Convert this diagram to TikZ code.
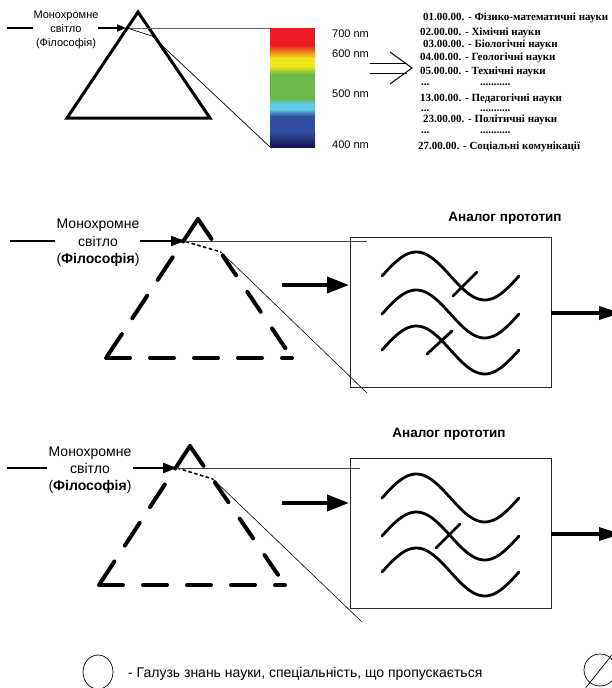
\documentclass[tikz,border=0pt]{standalone}
\usepackage{fontspec}
\setmainfont{Liberation Sans}
\newfontfamily\tnr{Liberation Serif}
\usetikzlibrary{arrows.meta}
\definecolor{spred}{RGB}{237,28,36}
\definecolor{sporange}{RGB}{247,148,29}
\definecolor{spyellow}{RGB}{240,232,24}
\definecolor{spgreen}{RGB}{108,184,72}
\definecolor{spcyan}{RGB}{96,204,232}
\definecolor{spblue}{RGB}{48,78,160}
\definecolor{spnavy}{RGB}{18,18,80}
\begin{document}
\begin{tikzpicture}[x=1pt,y=-1pt,
  lbl/.style={inner sep=0pt, anchor=base},
  lblw/.style={inner sep=0pt, anchor=base west},
  lst/.style={inner sep=0pt, anchor=base west, font=\tnr\bfseries\fontsize{11}{13}\selectfont},
  smallsans/.style={font=\fontsize{11}{13}\selectfont},
  bigsans/.style={font=\fontsize{14}{16}\selectfont},
  thinln/.style={draw=black!75, line width=0.7pt},
  prismline/.style={line width=3pt, line join=miter},
  dprism/.style={line width=4pt, line cap=round, dash pattern=on 25pt off 19pt},
  wave/.style={line width=2.8pt, line cap=round},
  inarrow/.style={line width=2pt, -{Triangle[length=14pt,width=10pt]}},
  smallarrow/.style={line width=2pt, -{Triangle[length=9pt,width=7pt]}},
  bigarrow/.style={line width=4pt, -{Triangle[length=22pt,width=16pt]}},
  outarrow/.style={line width=3.5pt, -{Triangle[length=22pt,width=13pt]}},
  boxln/.style={draw=black!85, line width=0.8pt}
]
\clip (0,0) rectangle (612,688);
\fill[white] (0,0) rectangle (612,688);

% ================= TOP SECTION =================
\coordinate (t0) at (7,28);
\coordinate (t1) at (33,28);
\coordinate (t2) at (98,28);
\coordinate (t3) at (126,28);
\draw[line width=2pt] (t0) -- (t1);
\draw[smallarrow] (t2) -- (t3);
\node[lbl, smallsans] (tl1) at (66,19) {Монохромне};
\node[lbl, smallsans] (tl2) at (66,32) {світло};
\node[lbl, smallsans] (tl3) at (66,46) {(Філософія)};

\coordinate (tA) at (138,12);
\coordinate (tBL) at (67,118);
\coordinate (tBR) at (210,118);
\draw[prismline] (tA) -- (tBR) -- (tBL) -- cycle;

% spectrum
\fill[spred] (270,28) rectangle (315,45.3);
\shade[top color=spred, middle color=sporange, bottom color=spyellow] (270,45) rectangle (315,58.3);
\fill[spyellow] (270,58) rectangle (315,66.3);
\shade[top color=spyellow, bottom color=spgreen] (270,66) rectangle (315,74.3);
\fill[spgreen] (270,74) rectangle (315,98.3);
\shade[top color=spgreen, bottom color=spcyan] (270,98) rectangle (315,104.3);
\fill[spcyan] (270,104) rectangle (315,109.3);
\shade[top color=spcyan, bottom color=spblue] (270,109) rectangle (315,116.3);
\fill[spblue] (270,116) rectangle (315,132.3);
\shade[top color=spblue, bottom color=spnavy] (270,132) rectangle (315,147);
\coordinate (sTL) at (270,28);
\coordinate (sBL) at (270,147);
\coordinate (tr0) at (127,28);
\coordinate (tr1) at (152,36);
\draw[thinln, draw=black!60] (tr0) -- (sTL);
\draw[line width=0.7pt] (tr0) -- (tr1) -- (sBL);

\node[lblw, smallsans] (n700) at (332,37) {700 nm};
\node[lblw, smallsans] (n600) at (332,57) {600 nm};
\node[lblw, smallsans] (n500) at (332,97) {500 nm};
\node[lblw, smallsans] (n400) at (332,148) {400 nm};

% implies arrow
\coordinate (d1a) at (370,63); \coordinate (d1b) at (407,63);
\coordinate (d2a) at (370,73); \coordinate (d2b) at (407,73);
\coordinate (dh1) at (390,52); \coordinate (dh2) at (412,68); \coordinate (dh3) at (390,84);
\draw[line width=1pt] (d1a) -- (d1b);
\draw[line width=1pt] (d2a) -- (d2b);
\draw[line width=1pt] (dh1) -- (dh2) -- (dh3);

% list
\node[lst] (L01) at (423,20.7) {01.00.00. - Фізико-математичні науки};
\node[lst] (L02) at (420,35.7) {02.00.00. - Хімічні науки};
\node[lst] (L03) at (423,47.3) {03.00.00. - Біологічні науки};
\node[lst] (L04) at (420,60.7) {04.00.00. - Геологічні науки};
\node[lst] (L05) at (420,74) {05.00.00. - Технічні науки};
\node[lst] (D1a) at (421,85) {...};
\node[lst] (D1b) at (480,85) {...........};
\node[lst] (L13) at (420,101.3) {13.00.00. - Педагогічні науки};
\node[lst] (D2a) at (421,111) {...};
\node[lst] (D2b) at (480,111) {...........};
\node[lst] (L23) at (423,122) {23.00.00. - Політичні науки};
\node[lst] (D3a) at (421,133) {...};
\node[lst] (D3b) at (480,133) {...........};
\node[lst] (L27) at (418,149) {27.00.00. - Соціальні комунікації};

% ================= MIDDLE SECTION =================
\coordinate (m0) at (10,241);
\coordinate (m1) at (55,241);
\coordinate (m2) at (140,241);
\coordinate (m3) at (185,241);
\draw[line width=2pt] (m0) -- (m1);
\draw[inarrow] (m2) -- (m3);
\node[lbl, bigsans] (ml1) at (98,228) {Монохромне};
\node[lbl, bigsans] (ml2) at (98,246) {світло};
\node[lbl, bigsans] (ml3) at (98,263) {(\textbf{Філософія})};

\coordinate (mA) at (198,219);
\coordinate (mBL) at (106,358);
\coordinate (mBR) at (292,358);
\draw[dprism, dash pattern=on 27pt off 19pt] (mA) -- (mBL);
\draw[dprism, dash pattern=on 24pt off 20pt] (mA) -- (mBR);
\draw[dprism, dash pattern=on 24pt off 20pt] (mBL) -- (mBR);

\coordinate (mr0) at (180,240);
\coordinate (mr1) at (221,252);
\coordinate (mr2) at (367,393);
\coordinate (mh0) at (185,241);
\coordinate (mh1) at (367,241);
\draw[line width=1.6pt, dash pattern=on 3.5pt off 2.5pt] (mr0) -- (mr1);
\draw[line width=0.6pt] (mr1) -- (mr2);
\draw[thinln] (mh0) -- (mh1);

\node[draw=none, inner sep=0pt, minimum width=201pt, minimum height=150pt, anchor=north west] (mbox) at (350,237) {};
\draw[boxln] (mbox.north west) rectangle (mbox.south east);
\node[lbl, font=\bfseries\fontsize{13.5}{16}\selectfont] (mtit) at (505,221) {Аналог прототип};

\coordinate (ma0) at (282,285);
\coordinate (ma1) at (349,285);
\draw[bigarrow] (ma0) -- (ma1);
\coordinate (mo0) at (551,313);
\coordinate (mo1) at (621,313);
\draw[outarrow] (mo0) -- (mo1);

\draw[wave] plot[domain=0:1,samples=60,smooth] ({382+137*\x},{276-24*sin(360*\x)});
\draw[wave] plot[domain=0:1,samples=60,smooth] ({382+137*\x},{314-24*sin(360*\x)});
\draw[wave] plot[domain=0:1,samples=60,smooth] ({382+137*\x},{350-24*sin(360*\x)});
\coordinate (mc1a) at (453,296); \coordinate (mc1b) at (477,272);
\coordinate (mc3a) at (427,354); \coordinate (mc3b) at (452,331);
\draw[wave] (mc1a) -- (mc1b);
\draw[wave] (mc3a) -- (mc3b);

% ================= LOWER SECTION =================
\coordinate (l0) at (7,468);
\coordinate (l1) at (47,468);
\coordinate (l2) at (133,468);
\coordinate (l3) at (177,468);
\draw[line width=2pt] (l0) -- (l1);
\draw[inarrow] (l2) -- (l3);
\node[lbl, bigsans] (ll1) at (90,456) {Монохромне};
\node[lbl, bigsans] (ll2) at (90,473) {світло};
\node[lbl, bigsans] (ll3) at (90,490) {(\textbf{Філософія})};

\coordinate (lA) at (190,446);
\coordinate (lBL) at (99,585);
\coordinate (lBR) at (285,585);
\draw[dprism, dash pattern=on 27pt off 19pt] (lA) -- (lBL);
\draw[dprism, dash pattern=on 24pt off 20pt] (lA) -- (lBR);
\draw[dprism, dash pattern=on 24pt off 20pt] (lBL) -- (lBR);

\coordinate (lr0) at (177,468);
\coordinate (lr1) at (213,479);
\coordinate (lr2) at (362,622);
\coordinate (lh0) at (177,468);
\coordinate (lh1) at (360,468);
\draw[line width=1.6pt, dash pattern=on 3.5pt off 2.5pt] (lr0) -- (lr1);
\draw[line width=0.6pt] (lr1) -- (lr2);
\draw[thinln] (lh0) -- (lh1);

\node[draw=none, inner sep=0pt, minimum width=201pt, minimum height=150pt, anchor=north west] (lbox) at (350,458) {};
\draw[boxln] (lbox.north west) rectangle (lbox.south east);
\node[lbl, font=\bfseries\fontsize{13.5}{16}\selectfont] (ltit) at (449,437) {Аналог прототип};

\coordinate (la0) at (282,503);
\coordinate (la1) at (349,503);
\draw[bigarrow] (la0) -- (la1);
\coordinate (lo0) at (551,534);
\coordinate (lo1) at (621,534);
\draw[outarrow] (lo0) -- (lo1);

\draw[wave] plot[domain=0:1,samples=60,smooth] ({382+137*\x},{498-24*sin(360*\x)});
\draw[wave] plot[domain=0:1,samples=60,smooth] ({382+137*\x},{536-24*sin(360*\x)});
\draw[wave] plot[domain=0:1,samples=60,smooth] ({382+137*\x},{572-24*sin(360*\x)});
\coordinate (lc2a) at (436,548); \coordinate (lc2b) at (460,524);
\draw[wave] (lc2a) -- (lc2b);

% ================= LEGEND =================
\draw[line width=0.7pt] (98,672) ellipse [x radius=15pt, y radius=17pt];
\node[lblw, font=\fontsize{14}{16}\selectfont] (leg) at (128,677) {- Галузь знань науки, спеціальність, що пропускається};
\coordinate (rc) at (600,670);
\draw[line width=0.7pt] (rc) circle [radius=16pt];
\coordinate (rs0) at (584,690);
\coordinate (rs1) at (615,651);
\draw[line width=0.7pt] (rs0) -- (rs1);
\end{tikzpicture}
\end{document}
